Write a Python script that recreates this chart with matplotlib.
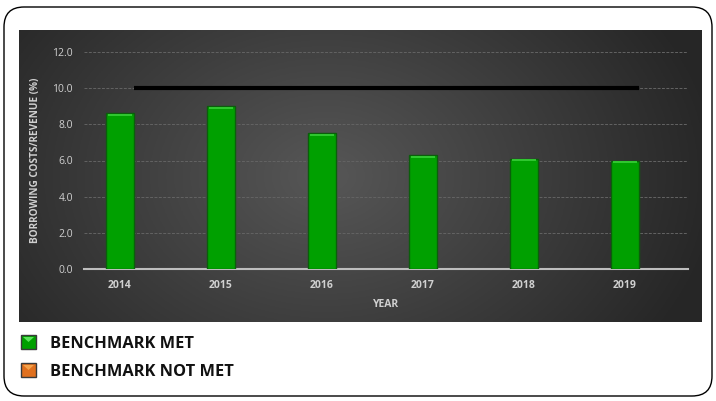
import matplotlib.pyplot as plt
import numpy as np
from matplotlib.patches import FancyBboxPatch, Rectangle, Polygon

plt.rcParams["font.family"] = ["Open Sans", "DejaVu Sans"]

years = ["2014", "2015", "2016", "2017", "2018", "2019"]
ratio = [8.6, 9.0, 7.5, 6.3, 6.1, 6.0]
benchmark = [10.0, 10.0, 10.0, 10.0, 10.0, 10.0]
y_ticks = [0.0, 2.0, 4.0, 6.0, 8.0, 10.0, 12.0]
legend_labels = ["BENCHMARK MET", "BENCHMARK NOT MET"]

BAR_GREEN = "#00a000"
BAR_EDGE = "#0b5e0b"
BAR_TOP = "#2fc62f"
ORANGE = "#e0701e"
LABEL_GRAY = "#d0d0d0"

W, H = 716, 401
fig = plt.figure(figsize=(W / 100, H / 100), dpi=100)
fig.patch.set_facecolor("white")

# rounded frame (inch units so the corners stay circular)
frame = FancyBboxPatch((0.04, 0.05), 7.08, 3.89,
                       boxstyle="round,pad=0,rounding_size=0.2",
                       transform=fig.dpi_scale_trans, facecolor="none",
                       edgecolor="black", linewidth=1.0)
fig.patches.append(frame)

# dark gradient panel
bg = fig.add_axes([19 / W, 1 - 322 / H, 683 / W, 292 / H])
gx, gy = np.meshgrid(np.linspace(-1, 1, 300), np.linspace(-1, 1, 150))
dist = np.sqrt(((gx + 0.1) * 0.95) ** 2 + (gy * 0.55) ** 2)
shade = 0.34 - 0.19 * np.clip(dist, 0, 1.1) / 1.1
bg.imshow(np.dstack([shade] * 3), aspect="auto", extent=[0, 1, 0, 1])
bg.set_axis_off()

ax = fig.add_axes([84 / W, 1 - 269 / H, 604 / W, 217 / H])
ax.patch.set_alpha(0)

x = np.arange(len(years))
width = 0.27
ax.bar(x, ratio, width=width, color=BAR_GREEN, edgecolor=BAR_EDGE,
       linewidth=1.0, zorder=3)
top_band = 0.12
ax.bar(x, [top_band] * len(x), bottom=np.array(ratio) - top_band - 0.03,
       width=width * 0.85, color=BAR_TOP, linewidth=0, zorder=4)

ax.plot(x + width / 2, benchmark, color="black", linewidth=3.0,
        solid_capstyle="butt", zorder=5)

ax.set_xlim(-0.356, 5.624)
ax.set_ylim(0, 12)
ax.set_yticks(y_ticks)
ax.set_yticklabels([f"{v:.1f}" for v in y_ticks], fontsize=7.5, color=LABEL_GRAY)
ax.set_xticks(x)
ax.set_xticklabels(years, fontsize=7.5, color=LABEL_GRAY, fontweight="bold")
ax.tick_params(length=0, pad=8)
ax.tick_params(axis="x", pad=8)

ax.grid(axis="y", color="#636363", linewidth=0.7, linestyle=(0, (3, 1.5)), zorder=0)
ax.set_axisbelow(True)
for side in ["top", "right", "left"]:
    ax.spines[side].set_visible(False)
ax.spines["bottom"].set_color("#bdbdbd")
ax.spines["bottom"].set_linewidth(1.5)

ax.set_ylabel("BORROWING COSTS/REVENUE (%)", fontsize=7.2, fontweight="bold",
              color=LABEL_GRAY, labelpad=8)
ax.set_xlabel("YEAR", fontsize=7.5, fontweight="bold", color=LABEL_GRAY, labelpad=6)

# custom legend
icon_colors = [(BAR_GREEN, "#5be35b"), (ORANGE, "#f6a24a")]
for i, (label, (base, light)) in enumerate(zip(legend_labels, icon_colors)):
    top = 335 + i * 28
    fig.patches.append(Rectangle((21 / W, 1 - (top + 14) / H), 15 / W, 14 / H,
                                 transform=fig.transFigure, facecolor=base,
                                 edgecolor="#3a3a3a", linewidth=1.0))
    fig.patches.append(Polygon([(23 / W, 1 - (top + 2) / H), (34 / W, 1 - (top + 2) / H),
                                (28.5 / W, 1 - (top + 7) / H)],
                               transform=fig.transFigure, facecolor=light,
                               edgecolor="none"))
    fig.text(50 / W, 1 - (top + 13.5) / H, label, fontsize=11.8, fontweight="bold",
             color="#111111", va="baseline", ha="left")

fig.savefig("out.png", dpi=100)
